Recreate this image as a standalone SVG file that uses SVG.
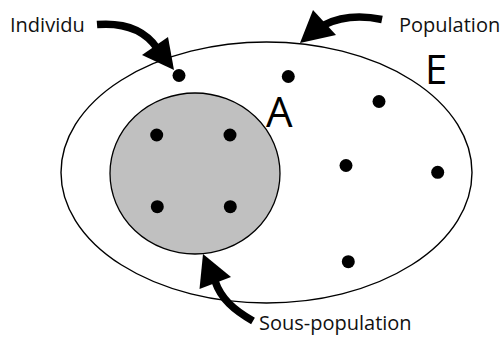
<svg xmlns="http://www.w3.org/2000/svg" width="503" height="338" viewBox="0 0 503 338">
<style>
.lbl{font-family:"Open Sans","Liberation Sans",sans-serif;font-size:20px;fill:#111}
.big{font-family:"Open Sans","Liberation Sans",sans-serif;fill:#000}
.dot{fill:#000}
.shaft{fill:none;stroke:#000;stroke-width:7.5;stroke-linecap:butt}
.head{fill:#000}
</style>
<rect width="503" height="338" fill="#fff"/>
<g id="population-E">
<ellipse cx="266.5" cy="172.5" rx="205.5" ry="130.5" fill="#fff" stroke="#000" stroke-width="1.4"/>
<text class="big" x="425" y="83.5" font-size="40">E</text>
</g>
<g id="sous-population-A">
<ellipse cx="195" cy="173.5" rx="85" ry="80.5" fill="#c0c0c0" stroke="#000" stroke-width="1.3"/>
<text class="big" x="266" y="127" font-size="42">A</text>
</g>
<g id="individus">
<circle class="dot" cx="179" cy="75.5" r="6.5"/>
<circle class="dot" cx="288.3" cy="76.5" r="6.5"/>
<circle class="dot" cx="379" cy="101.5" r="6.5"/>
<circle class="dot" cx="156.7" cy="135" r="6.5"/>
<circle class="dot" cx="230" cy="135" r="6.5"/>
<circle class="dot" cx="157.3" cy="206.7" r="6.5"/>
<circle class="dot" cx="230.3" cy="206.7" r="6.5"/>
<circle class="dot" cx="346" cy="165.5" r="6.5"/>
<circle class="dot" cx="437.7" cy="172.3" r="6.5"/>
<circle class="dot" cx="348.3" cy="261.7" r="6.5"/>
</g>
<g id="label-individu"><text class="lbl" x="10" y="31.5">Individu</text></g>
<g id="label-population"><text class="lbl" x="399" y="32">Population</text></g>
<g id="label-sous-population"><text class="lbl" x="259" y="330">Sous-population</text></g>
<g id="connectors">
<path class="shaft" d="M97,24.5 C128,22 146,32 157,48"/>
<polygon class="head" points="174,70 142,55 168,37"/>
<path class="shaft" d="M382,19.5 C360,15 340,17 324,25"/>
<polygon class="head" points="300,43 313,10 336,35"/>
<path class="shaft" d="M253,321 C234,310 221,299 215,281"/>
<polygon class="head" points="203,254 199.5,289 231,277"/>
</g>
</svg>
